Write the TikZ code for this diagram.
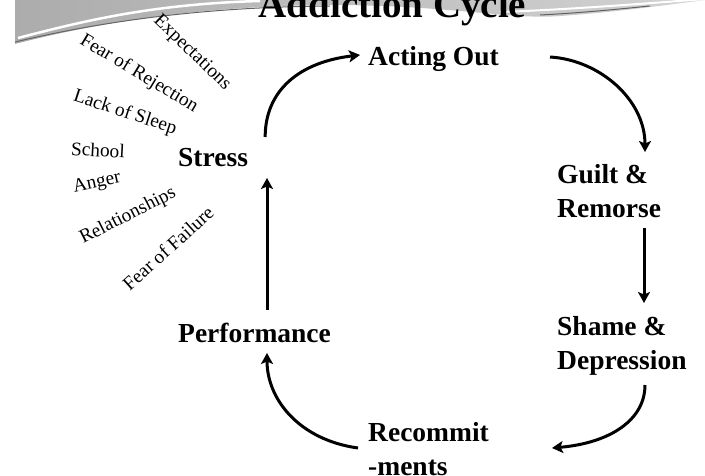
\documentclass[tikz,border=0pt]{standalone}
\usepackage{fontspec}
\setmainfont{Liberation Serif}
\usetikzlibrary{arrows.meta}
\tikzset{
  stage/.style={font=\fontsize{27.5}{34}\selectfont\bfseries, inner sep=0pt, anchor=base west, align=left},
  cause/.style={font=\fontsize{19.3}{20}\selectfont, inner sep=0pt},
  arr/.style={line width=3pt, -{Stealth[length=11pt,width=12pt,inset=2.5pt]}},
}
\begin{document}
\begin{tikzpicture}[x=1pt,y=-1pt]
\useasboundingbox (0,0) rectangle (705,476);
\clip (0,0) rectangle (705,476);
% top swoosh
\shade[left color=gray!65, right color=gray!35]
  (15,0) -- (15,44) .. controls (100,22) and (200,6) .. (330,5)
  .. controls (450,5) and (510,20) .. (560,16)
  .. controls (620,12) and (680,3) .. (705,0) -- cycle;
\draw[white, line width=2.5pt] (18,38) .. controls (80,22) and (150,4) .. (260,1);
\draw[gray!80!black, line width=1pt] (15,42) .. controls (100,22) and (200,7) .. (330,6);
\draw[white, line width=2pt] (500,12) .. controls (560,10) and (640,4) .. (705,-1);
\draw[gray!75!black, line width=1pt] (540,15) .. controls (580,13) and (620,9) .. (650,6);
% title
\node[font=\fontsize{39}{40}\selectfont\bfseries, inner sep=0pt, anchor=base] (title) at (392.5,18) {Addiction Cycle};
% stages (base anchor = baseline of last line)
\node[stage] (stress) at (178,167) {Stress};
\node[stage] (act) at (368,66) {Acting Out};
\node[stage] (guilt) at (557,218) {Guilt \&\\Remorse};
\node[stage] (shame) at (557,369) {Shame \&\\Depression};
\node[stage] (recom) at (368,475) {Recommit\\-ments};
\node[stage] (perf) at (178,342) {Performance};
% causes
\node[cause, rotate=-44] (c1) at (192,53) {Expectations};
\node[cause, rotate=-31] (c2) at (139,74) {Fear of Rejection};
\node[cause, rotate=-18] (c3) at (125,113) {Lack of Sleep};
\node[cause, rotate=-3] (c4) at (98,150) {School};
\node[cause, rotate=12] (c5) at (97,183) {Anger};
\node[cause, rotate=27] (c6) at (128,216) {Relationships};
\node[cause, rotate=42] (c7) at (168,248) {Fear of Failure};
% arrows
\draw[arr] ([shift={(17,-30)}]stress.base east) .. controls +(0,-47) and +(-60,7) .. ([shift={(-8,-11)}]act.base west);
\draw[arr] ([shift={(51,-9)}]act.base east) .. controls +(50,3) and +(0,-52) .. ([shift={(88,-66)}]guilt.base west);
\draw[arr] ([shift={(87,10)}]guilt.base west) -- ([shift={(87,-66)}]shame.base west);
\draw[arr] ([shift={(88,16)}]shame.base west) .. controls +(0,35) and +(58,-5) .. ([shift={(184,-27)}]recom.base west);
\draw[arr] ([shift={(-10,-27)}]recom.base west) .. controls +(-58,-8) and +(0,47) .. ([shift={(89,11)}]perf.base west);
\draw[arr] ([shift={(89,-32)}]perf.base west) -- ([shift={(89,11)}]stress.base west);
\end{tikzpicture}
\end{document}
